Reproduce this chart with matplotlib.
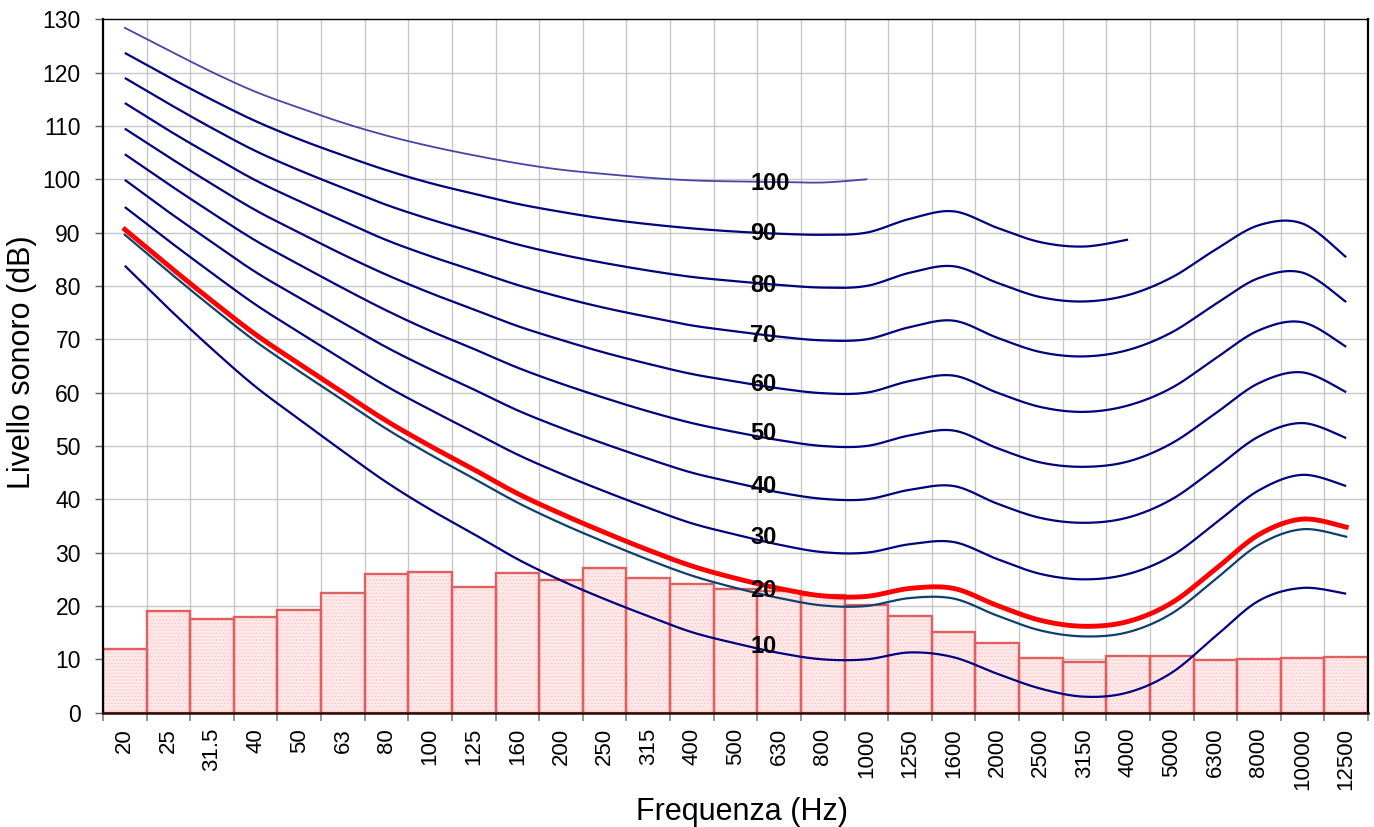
import numpy as np
import matplotlib
matplotlib.use("Agg")
import matplotlib.pyplot as plt

plt.rcParams['font.family'] = ['Liberation Sans', 'DejaVu Sans']

# ---------------- data ----------------
freq_labels = ["20", "25", "31.5", "40", "50", "63", "80", "100", "125", "160",
               "200", "250", "315", "400", "500", "630", "800", "1000", "1250",
               "1600", "2000", "2500", "3150", "4000", "5000", "6300", "8000",
               "10000", "12500"]

spectrum = [12.0, 19.0, 17.5, 18.0, 19.2, 22.4, 26.0, 26.4, 23.6, 26.2,
            24.8, 27.2, 25.3, 24.1, 23.1, 22.8, 22.0, 20.2, 18.1, 15.2,
            13.1, 10.2, 9.5, 10.6, 10.7, 9.8, 10.1, 10.2, 10.4]

phon10 = [83.8, 75.8, 68.2, 61.1, 55.0, 49.0, 43.2, 38.1, 33.5, 28.8, 24.8, 21.3, 18.1, 15.1, 13.0,
          11.2, 10.0, 10.0, 11.3, 10.4, 7.3, 4.5, 3.0, 3.8, 7.5, 14.3, 21.0, 23.4, 22.3]
phon20 = [89.6, 82.7, 76.0, 69.6, 64.0, 58.6, 53.2, 48.4, 43.9, 39.4, 35.5, 32.0, 28.7, 25.7, 23.4,
          21.5, 20.1, 20.0, 21.5, 21.4, 18.2, 15.4, 14.3, 15.1, 18.6, 25.0, 31.5, 34.4, 33.0]
phon30 = [94.8, 88.5, 82.4, 76.5, 71.3, 66.2, 61.2, 56.8, 52.6, 48.4, 44.8, 41.5, 38.4, 35.5, 33.4,
          31.5, 30.1, 30.0, 31.6, 32.0, 28.8, 26.0, 25.0, 26.0, 29.4, 35.5, 41.7, 44.6, 42.5]
phon40 = [99.9, 93.9, 88.2, 82.6, 77.8, 73.1, 68.5, 64.4, 60.6, 56.7, 53.4, 50.4, 47.6, 45.0, 43.1,
          41.3, 40.1, 40.0, 41.8, 42.5, 39.2, 36.5, 35.6, 36.6, 40.0, 45.8, 51.8, 54.3, 51.5]
phon50 = [104.7, 99.1, 93.7, 88.5, 84.0, 79.6, 75.4, 71.6, 68.2, 64.7, 61.7, 59.0, 56.5, 54.3, 52.6,
          51.1, 50.0, 50.0, 52.0, 52.9, 49.6, 46.9, 46.1, 47.1, 50.5, 56.1, 61.8, 63.8, 60.1]
phon60 = [109.5, 104.2, 99.1, 94.2, 90.0, 85.9, 82.1, 78.7, 75.6, 72.5, 69.9, 67.5, 65.4, 63.5, 62.1,
          60.8, 59.9, 60.0, 62.2, 63.2, 60.0, 57.3, 56.4, 57.6, 60.9, 66.4, 71.7, 73.2, 68.6]
phon70 = [114.3, 109.2, 104.4, 99.8, 95.9, 92.2, 88.6, 85.6, 82.9, 80.2, 77.9, 75.9, 74.2, 72.6, 71.5,
          70.5, 69.8, 70.0, 72.3, 73.5, 70.3, 67.6, 66.8, 68.0, 71.3, 76.6, 81.5, 82.5, 77.0]
phon80 = [119.0, 114.2, 109.6, 105.3, 101.7, 98.4, 95.2, 92.5, 90.1, 87.8, 85.9, 84.3, 82.9, 81.7, 80.9,
          80.2, 79.7, 80.0, 82.5, 83.7, 80.6, 77.9, 77.1, 78.3, 81.6, 86.8, 91.4, 91.7, 85.4]
phon90 = [123.7, 119.2, 114.9, 110.9, 107.5, 104.5, 101.7, 99.3, 97.3, 95.4, 93.9, 92.6, 91.6, 90.8, 90.2,
          89.8, 89.6, 90.0, 92.6, 94.0, 90.9, 88.2, 87.4, 88.7]
phon100 = [128.4, 124.2, 120.1, 116.4, 113.4, 110.6, 108.2, 106.2, 104.5, 103.0, 101.8, 101.0, 100.3,
           99.8, 99.6, 99.5, 99.4, 100.0]
loudness_curve = [90.6, 83.8, 77.2, 70.9, 65.4, 60.0, 54.7, 50.0, 45.6, 41.1, 37.3, 33.8, 30.5, 27.5, 25.2,
                  23.3, 21.9, 21.8, 23.3, 23.3, 20.1, 17.3, 16.2, 17.1, 20.6, 26.9, 33.4, 36.3, 34.8]

contour_labels = ["100", "90", "80", "70", "60", "50", "40", "30", "20", "10"]
contour_label_y = [99.2, 89.9, 80.1, 70.8, 61.6, 52.3, 42.5, 32.9, 23.0, 12.5]


# ------------- smoothing like a spreadsheet "smoothed line" -------------
def smooth(y, n=24):
    y = np.asarray(y, float)
    x = np.arange(len(y), dtype=float)
    P = np.column_stack([x, y])
    Pext = np.vstack([P[0], P, P[-1]])
    out = []
    t = np.linspace(0, 1, n, endpoint=False)
    for i in range(len(P) - 1):
        p0, p1, p2, p3 = Pext[i], Pext[i + 1], Pext[i + 2], Pext[i + 3]
        c1 = p1 + (p2 - p0) / 6.0
        c2 = p2 - (p3 - p1) / 6.0
        tt = t[:, None]
        seg = ((1 - tt) ** 3) * p1 + 3 * ((1 - tt) ** 2) * tt * c1 + 3 * (1 - tt) * tt ** 2 * c2 + tt ** 3 * p2
        out.append(seg)
    out.append(P[-1][None, :])
    out = np.vstack(out)
    return out[:, 0], out[:, 1]


fig = plt.figure(figsize=(13.74, 8.27), dpi=100)
ax = fig.add_axes([103 / 1374, 1 - 712.7 / 827, (1368 - 103) / 1374, (712.7 - 19.3) / 827])

n = len(freq_labels)
xpos = np.arange(n)

# grid
for b in np.arange(0.5, n - 0.5, 1.0):
    ax.axvline(b, color='#C8C8C8', lw=1.0, zorder=0)
for v in range(10, 130, 10):
    ax.axhline(v, color='#C8C8C8', lw=1.0, zorder=0)

# bars (pattern + outline)
plt.rcParams['hatch.linewidth'] = 0.8
ax.bar(xpos, spectrum, width=1.0, color='#FFEBEB', edgecolor='#FFC8C8', hatch='.....',
       linewidth=0, zorder=2)
ax.bar(xpos, spectrum, width=1.0, fill=False, edgecolor='#E06060', linewidth=1.7, zorder=2.1)

# contours
navy = '#000080'
for series in [phon10, phon30, phon40, phon50, phon60, phon70, phon80, phon90]:
    sx, sy = smooth(series)
    ax.plot(sx, sy, color=navy, lw=1.6, zorder=3, solid_capstyle='butt')
sx, sy = smooth(phon100)
ax.plot(sx, sy, color='#4646A8', lw=1.3, zorder=3)
sx, sy = smooth(phon20)
ax.plot(sx, sy, color='#10406E', lw=1.6, zorder=3)
sx, sy = smooth(loudness_curve)
ax.plot(sx, sy, color='#FF0000', lw=3.5, zorder=3.5)

for lab, yy in zip(contour_labels, contour_label_y):
    ax.text(14.34, yy, lab, fontsize=17, fontweight='bold', ha='left', va='center',
            color='black', zorder=5)

ax.set_xlim(-0.5, n - 0.5)
ax.set_ylim(0, 130)
ax.set_yticks(range(0, 131, 10))
ax.set_xticks(xpos)
ax.set_xticklabels(freq_labels, rotation=90, fontsize=16)
ax.set_xticks(np.arange(-0.5, n, 1.0), minor=True)
ax.tick_params(axis='x', which='major', length=0, pad=11)
ax.tick_params(axis='x', which='minor', length=6, color='#808080', width=1.2)
ax.tick_params(axis='y', which='major', length=6, color='#606060', width=1.0, labelsize=16.5, pad=10)
for s in ['left', 'right', 'top']:
    ax.spines[s].set_color('black')
    ax.spines[s].set_linewidth(1.6)
ax.spines['bottom'].set_color('#2A0A0A')
ax.spines['bottom'].set_linewidth(1.8)
ax.spines['top'].set_linewidth(1.0)
for sp in ax.spines.values():
    sp.set_zorder(6)

fig.text(742 / 1374, 1 - 820 / 827, "Frequenza (Hz)", fontsize=22, ha='center', va='baseline')
fig.text(22 / 1374, 1 - 362.5 / 827, "Livello sonoro (dB)", fontsize=22, ha='center', va='center',
         rotation=90)

fig.savefig("out.png", dpi=100)
